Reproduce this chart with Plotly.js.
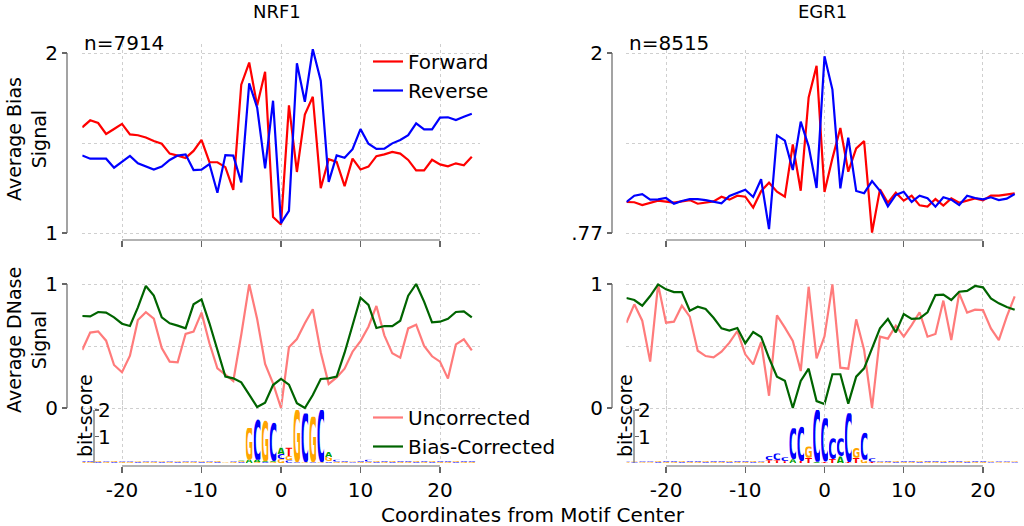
<!DOCTYPE html>
<html><head><meta charset="utf-8">
<script src="https://cdn.plot.ly/plotly-3.0.1.min.js"></script>
<style>html,body{margin:0;padding:0;background:#fff;} #chart{width:1024px;height:526px;}</style>
</head><body><div id="chart"></div>
<script>
// ---------------- data ----------------
const positions = [-25,-24,-23,-22,-21,-20,-19,-18,-17,-16,-15,-14,-13,-12,-11,-10,-9,-8,-7,-6,-5,-4,-3,-2,-1,0,1,2,3,4,5,6,7,8,9,10,11,12,13,14,15,16,17,18,19,20,21,22,23,24];
const xTicks = [-20,-10,0,10,20];
const xTickText = ['-20','-10','0','10','20'];

const nrf1Forward = [1.587,1.626,1.611,1.55,1.578,1.606,1.548,1.543,1.531,1.511,1.496,1.441,1.43,1.417,1.456,1.517,1.394,1.393,1.366,1.239,1.824,1.947,1.709,1.896,1.089,1.047,1.709,1.339,1.658,1.757,1.249,1.41,1.395,1.26,1.413,1.353,1.369,1.427,1.437,1.45,1.441,1.406,1.348,1.348,1.407,1.381,1.37,1.387,1.376,1.424];
const nrf1Reverse = [1.431,1.413,1.413,1.413,1.363,1.394,1.428,1.387,1.369,1.352,1.369,1.406,1.43,1.437,1.35,1.352,1.383,1.224,1.433,1.43,1.281,1.831,1.697,1.359,1.735,1.055,1.123,1.943,1.729,2.021,1.846,1.284,1.431,1.418,1.466,1.577,1.496,1.467,1.469,1.498,1.517,1.544,1.609,1.576,1.576,1.641,1.643,1.628,1.646,1.663];
const egr1Forward = [0.982,0.98,0.961,0.975,0.991,0.984,0.977,0.986,0.995,0.97,0.977,0.986,1.018,0.998,1.025,1.018,0.944,1.056,1.114,1.052,1.018,1.375,1.059,1.696,1.912,1.051,1.28,1.488,1.189,1.348,1.398,0.773,1.068,0.977,1.045,0.991,1.025,0.959,0.95,1.002,0.957,1.007,0.977,0.993,1.007,0.993,1.025,1.025,1.032,1.041];
const egr1Reverse = [0.982,1.025,1.036,0.998,1.0,1.009,0.97,0.989,1.002,1.002,0.995,0.984,0.973,1.023,1.043,1.066,1.016,1.137,0.796,1.437,1.401,1.2,1.531,1.362,1.078,1.978,1.75,1.075,1.422,1.057,1.042,1.125,1.058,0.952,1.03,1.052,0.982,1.025,1.007,0.95,1.014,0.998,0.961,1.025,1.009,1.0,1.014,0.995,1.005,1.036];

const nrf1Uncorrected = [0.468,0.608,0.618,0.543,0.347,0.288,0.422,0.71,0.772,0.72,0.484,0.374,0.368,0.597,0.616,0.769,0.522,0.32,0.269,0.218,0.591,0.997,0.718,0.355,0.199,0.0,0.489,0.556,0.683,0.796,0.449,0.194,0.247,0.317,0.454,0.54,0.656,0.823,0.586,0.441,0.406,0.642,0.672,0.5,0.417,0.374,0.237,0.513,0.554,0.465];
const nrf1Corrected = [0.742,0.739,0.774,0.769,0.731,0.68,0.661,0.812,0.984,0.906,0.731,0.683,0.664,0.642,0.836,0.876,0.683,0.476,0.253,0.239,0.207,0.108,0.008,0.043,0.185,0.234,0.188,0.038,0.0,0.105,0.234,0.239,0.253,0.446,0.667,0.89,0.831,0.645,0.661,0.661,0.704,0.906,1.0,0.858,0.691,0.696,0.72,0.774,0.78,0.731];
const egr1Uncorrected = [0.688,0.836,0.704,0.374,0.997,0.688,0.696,0.825,0.737,0.462,0.419,0.409,0.454,0.527,0.621,0.433,0.352,0.532,0.099,0.747,0.648,0.54,0.298,0.978,0.4,0.578,0.997,0.325,0.317,0.715,0.468,0.0,0.575,0.559,0.664,0.575,0.669,0.772,0.575,0.597,0.866,0.548,0.925,0.769,0.793,0.79,0.642,0.548,0.737,0.901];
const egr1Corrected = [0.887,0.871,0.825,0.903,0.997,0.957,0.935,0.935,0.785,0.817,0.798,0.728,0.642,0.624,0.645,0.522,0.613,0.573,0.403,0.253,0.22,0.0,0.218,0.317,0.056,0.032,0.272,0.272,0.035,0.253,0.32,0.489,0.642,0.718,0.61,0.758,0.718,0.723,0.772,0.911,0.914,0.871,0.938,0.944,0.984,0.973,0.884,0.844,0.815,0.793];

// sequence logo columns (letters bottom -> top, heights in bits), one per position
const nrf1LogoLetters = ["GC","GC","CG","GC","CG","GC","GC","CG","GC","GC","CG","GC","CG","GC","GC","CG","GC","CG","GC","GC","CGA","AG","GAC","CAG","GAC","GCA","CGT","CG","GC","CG","GC","CGA","GC","GC","CG","GC","GC","CG","GC","CG","GC","GC","CG","GC","CG","GC","GC","CG","GC","GC"];
const nrf1LogoHeights = [[0.04,0.04],[0.04,0.04],[0.04,0.05],[0.05,0.04],[0.04,0.05],[0.05,0.06],[0.05,0.06],[0.05,0.06],[0.05,0.06],[0.05,0.05],[0.05,0.05],[0.05,0.05],[0.05,0.05],[0.05,0.05],[0.05,0.05],[0.05,0.06],[0.05,0.06],[0.04,0.05],[0.02,0.02],[0.05,0.06],[0.04,0.05,0.04],[0.12,1.2],[0.04,0.08,1.54],[0.04,0.04,1.52],[0.04,0.04,1.44],[0.14,0.2,0.24],[0.1,0.16,0.32],[0.03,1.97],[0.03,1.84],[0.03,1.72],[0.03,1.97],[0.06,0.17,0.2],[0.05,0.07],[0.04,0.05],[0.03,0.03],[0.04,0.05],[0.05,0.07],[0.04,0.05],[0.04,0.05],[0.04,0.05],[0.04,0.05],[0.04,0.05],[0.04,0.05],[0.04,0.05],[0.04,0.05],[0.04,0.05],[0.04,0.05],[0.04,0.05],[0.04,0.05],[0.04,0.05]];
const egr1LogoLetters = ["GC","CG","GC","GC","CG","GC","GC","CG","GC","GC","CG","GC","GC","CG","GC","GC","CG","GC","TC","TC","TC","AC","TC","TG","AC","TC","TC","AC","TC","TG","GC","TC","GC","GC","CG","GC","GC","CG","GC","GC","CG","GC","GC","CG","GC","GC","CG","GC","GC","CG"];
const egr1LogoHeights = [[0.03,0.03],[0.03,0.03],[0.03,0.04],[0.03,0.04],[0.04,0.04],[0.04,0.04],[0.04,0.04],[0.04,0.04],[0.04,0.04],[0.04,0.05],[0.04,0.05],[0.04,0.05],[0.04,0.05],[0.04,0.05],[0.04,0.06],[0.04,0.06],[0.04,0.05],[0.05,0.06],[0.1,0.16],[0.1,0.26],[0.07,0.15],[0.14,1.17],[0.08,1.29],[0.2,0.42],[0.05,1.95],[0.06,1.63],[0.15,0.78],[0.25,0.68],[0.04,1.84],[0.2,0.37],[0.12,1.02],[0.05,0.13],[0.05,0.06],[0.04,0.06],[0.04,0.05],[0.04,0.06],[0.04,0.05],[0.04,0.05],[0.04,0.05],[0.04,0.04],[0.04,0.05],[0.04,0.05],[0.04,0.04],[0.04,0.04],[0.04,0.05],[0.04,0.04],[0.03,0.04],[0.03,0.04],[0.03,0.04],[0.03,0.04]];

// ---------------- styling / layout helpers ----------------
const W = 1024, H = 526;
const px = v => v / W, py = v => 1 - v / H;
const FONT = 'DejaVu Sans, Verdana, sans-serif';
const FS = 20;
const GRID = '#cfcfcf', SPINE = '#666';
const letterColor = {A:'#00a000', C:'#0000ff', G:'#ffa500', T:'#ff0000'};
const letterInk = {A:77, C:64, G:72, T:68};

function glyph(L) {
  const w = letterInk[L];
  const svg = `<svg xmlns="http://www.w3.org/2000/svg" width="${w}" height="73" viewBox="${-w/2} -73 ${w} 73" preserveAspectRatio="none"><text x="0" y="0" text-anchor="middle" font-family="DejaVu Sans" font-weight="bold" font-size="100" fill="${letterColor[L]}">${L}</text></svg>`;
  return 'data:image/svg+xml;charset=utf-8,' + encodeURIComponent(svg);
}
function logoImages(letters, heights, xref, yref) {
  const imgs = [];
  positions.forEach((p, i) => {
    let base = 0;
    letters[i].split('').forEach((L, j) => {
      const h = heights[i][j];
      imgs.push({source: glyph(L), xref, yref, x: p - 0.45, y: base + h, sizex: 0.9, sizey: h,
                 xanchor: 'left', yanchor: 'top', sizing: 'stretch', layer: 'above'});
      base += h;
    });
  });
  return imgs;
}
const logoTotal = hs => hs.map(a => a.reduce((s, v) => s + v, 0));

function xAxis(domain, pos, labels) {
  return {domain, range: [-25, 25], anchor: 'free', position: pos, tickvals: xTicks, ticktext: xTickText,
    ticks: 'outside', ticklen: 6, tickwidth: 1.2, tickcolor: SPINE, showticklabels: labels,
    tickfont: {size: FS, family: FONT, color: '#000'}, showline: false, zeroline: false,
    showgrid: true, gridcolor: GRID, griddash: '3px,3px', gridwidth: 1, fixedrange: true};
}
function yAxis(domain, range, pos, tickvals, ticktext, minorVals) {
  return {domain, range, anchor: 'free', position: pos, tickvals, ticktext,
    ticks: 'outside', ticklen: 5, tickwidth: 1.2, tickcolor: SPINE,
    tickfont: {size: FS, family: FONT, color: '#000'}, showline: false, zeroline: false,
    showgrid: true, gridcolor: GRID, griddash: '3px,3px', gridwidth: 1,
    minor: {tickvals: minorVals, showgrid: true, gridcolor: GRID, griddash: '3px,3px', gridwidth: 1, ticks: ''},
    fixedrange: true};
}
function logoAxis(pos) {
  return {domain: [py(463), py(390)], range: [0, 2.755], anchor: 'free', position: pos,
    tickvals: [1, 2], ticks: 'inside', ticklen: 4, tickwidth: 1.2, tickcolor: SPINE,
    ticklabelposition: 'inside', tickfont: {size: 20, family: FONT, color: '#000'},
    showline: false, zeroline: false, showgrid: false, fixedrange: true};
}
function vline(x, yref, y0, y1) { return {type: 'line', xref: 'paper', yref, x0: x, x1: x, y0, y1, line: {color: SPINE, width: 1.2}}; }
function hline(xref, y) { return {type: 'line', xref, yref: 'paper', x0: -20, x1: 20, y0: y, y1: y, line: {color: SPINE, width: 1.2}}; }

const RED = '#ff0000', BLUE = '#0000ff', SALMON = '#ff7b7b', GREEN = '#006400';
const lw = 2.2;
const traces = [
  {x: positions, y: nrf1Forward, xaxis: 'x', yaxis: 'y', mode: 'lines', name: 'Forward', line: {color: RED, width: lw}, legend: 'legend'},
  {x: positions, y: nrf1Reverse, xaxis: 'x', yaxis: 'y', mode: 'lines', name: 'Reverse', line: {color: BLUE, width: lw}, legend: 'legend'},
  {x: positions, y: egr1Forward, xaxis: 'x2', yaxis: 'y2', mode: 'lines', name: 'Forward', line: {color: RED, width: lw}, showlegend: false},
  {x: positions, y: egr1Reverse, xaxis: 'x2', yaxis: 'y2', mode: 'lines', name: 'Reverse', line: {color: BLUE, width: lw}, showlegend: false},
  {x: positions, y: nrf1Uncorrected, xaxis: 'x3', yaxis: 'y3', mode: 'lines', name: 'Uncorrected', line: {color: SALMON, width: lw}, legend: 'legend2'},
  {x: positions, y: nrf1Corrected, xaxis: 'x3', yaxis: 'y3', mode: 'lines', name: 'Bias-Corrected', line: {color: GREEN, width: lw}, legend: 'legend2'},
  {x: positions, y: egr1Uncorrected, xaxis: 'x4', yaxis: 'y4', mode: 'lines', name: 'Uncorrected', line: {color: SALMON, width: lw}, showlegend: false},
  {x: positions, y: egr1Corrected, xaxis: 'x4', yaxis: 'y4', mode: 'lines', name: 'Bias-Corrected', line: {color: GREEN, width: lw}, showlegend: false},
  {x: positions, y: logoTotal(nrf1LogoHeights), xaxis: 'x3', yaxis: 'y5', mode: 'markers', marker: {opacity: 0}, showlegend: false, hoverinfo: 'skip'},
  {x: positions, y: logoTotal(egr1LogoHeights), xaxis: 'x4', yaxis: 'y6', mode: 'markers', marker: {opacity: 0}, showlegend: false, hoverinfo: 'skip'}
];

const xL = [px(82.25), px(479.75)], xR = [px(626.4), px(1022.6)];
const ann = (text, x, y, o) => Object.assign({text, x: px(x), y: py(y), xref: 'paper', yref: 'paper', showarrow: false,
  xanchor: 'center', yanchor: 'middle', font: {size: FS, family: FONT, color: '#000'}}, o || {});

const layout = {
  width: W, height: H, margin: {l: 0, r: 0, t: 0, b: 0},
  paper_bgcolor: '#fff', plot_bgcolor: 'rgba(0,0,0,0)',
  font: {family: FONT, color: '#000'},
  xaxis: xAxis(xL, py(240), false),
  xaxis2: xAxis(xR, py(240), false),
  xaxis3: xAxis(xL, py(466), true),
  xaxis4: xAxis(xR, py(466), true),
  yaxis: yAxis([py(238.4), py(44)], [0.97, 2.05], px(67), [1, 2], ['1', '2'], [1.5]),
  yaxis2: yAxis([py(235.93), py(50.07)], [0.75, 2.02], px(612), [0.77, 2], ['.77', '2'], [1.385]),
  yaxis3: yAxis([py(411.72), py(280.28)], [-0.03, 1.03], px(67), [0, 1], ['0', '1'], [0.5]),
  yaxis4: yAxis([py(411.72), py(280.28)], [-0.03, 1.03], px(612), [0, 1], ['0', '1'], [0.5]),
  yaxis5: logoAxis(px(94)),
  yaxis6: logoAxis(px(634)),
  showlegend: true,
  legend: {x: px(368), y: py(42), xanchor: 'left', yanchor: 'top', bgcolor: 'rgba(0,0,0,0)',
    font: {size: FS, family: FONT, color: '#000'}, tracegroupgap: 0, itemwidth: 30},
  legend2: {x: px(368), y: py(398), xanchor: 'left', yanchor: 'top', bgcolor: 'rgba(0,0,0,0)',
    font: {size: FS, family: FONT, color: '#000'}, tracegroupgap: 0, itemwidth: 30},
  shapes: [
    vline(px(67), 'y', 1, 2), vline(px(612), 'y2', 0.77, 2),
    vline(px(67), 'y3', 0, 1), vline(px(612), 'y4', 0, 1),
    vline(px(94), 'y5', 0, 2), vline(px(634), 'y6', 0, 2),
    hline('x', py(240)), hline('x2', py(240)), hline('x3', py(466)), hline('x4', py(466))
  ],
  images: logoImages(nrf1LogoLetters, nrf1LogoHeights, 'x3', 'y5').concat(logoImages(egr1LogoLetters, egr1LogoHeights, 'x4', 'y6')),
  annotations: [
    ann('NRF1', 277, 12, {font: {size: 18, family: FONT, color: '#000'}}),
    ann('EGR1', 822, 12, {font: {size: 18, family: FONT, color: '#000'}}),
    ann('n=7914', 82, 43, {xanchor: 'left'}),
    ann('n=8515', 627, 43, {xanchor: 'left'}),
    ann('Average Bias<br>Signal', 26, 139, {textangle: -90, font: {size: 19, family: FONT, color: '#000'}}),
    ann('Average DNase<br>Signal', 26, 340, {textangle: -90, font: {size: 19, family: FONT, color: '#000'}}),
    ann('bit-score', 85, 416, {textangle: -90, font: {size: 19, family: FONT, color: '#000'}}),
    ann('bit-score', 625, 416, {textangle: -90, font: {size: 19, family: FONT, color: '#000'}}),
    ann('Coordinates from Motif Center', 533, 515)
  ]
};

Plotly.newPlot('chart', traces, layout, {staticPlot: true, displayModeBar: false});
</script>
</body></html>
